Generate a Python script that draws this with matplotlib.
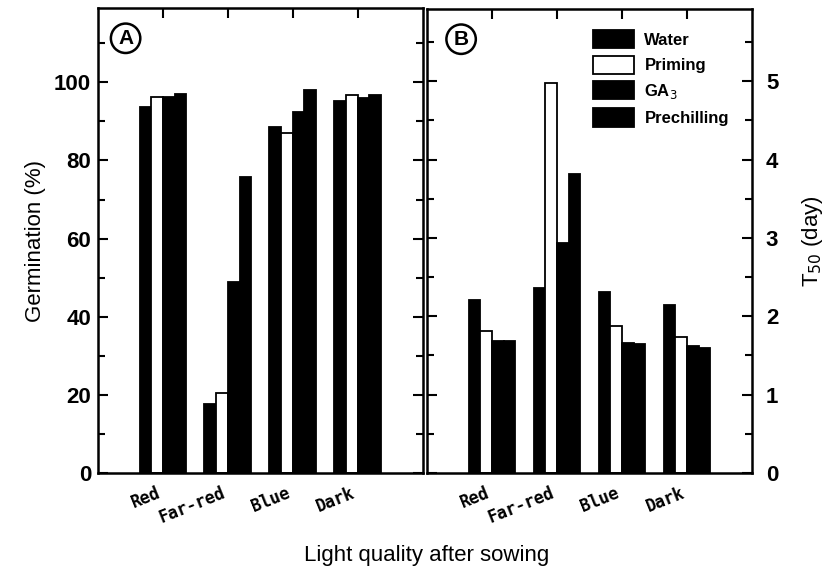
import matplotlib
matplotlib.use("Agg")
import matplotlib.pyplot as plt
import numpy as np
from matplotlib.ticker import MultipleLocator
from matplotlib.patches import Patch

plt.rcParams['font.family'] = ['Liberation Sans', 'DejaVu Sans']

categories = ["Red", "Far-red", "Blue", "Dark"]
treatments = ["Water", "Priming", "GA$_3$", "Prechilling"]

germ_water = [93.6, 17.7, 88.6, 95.3]
germ_priming = [96.3, 20.5, 86.9, 96.8]
germ_ga3 = [96.3, 48.8, 92.3, 95.9]
germ_prechill = [97.0, 75.8, 98.1, 96.7]

t50_water = [2.21, 2.36, 2.31, 2.15]
t50_priming = [1.81, 4.98, 1.88, 1.74]
t50_ga3 = [1.68, 2.94, 1.66, 1.62]
t50_prechill = [1.68, 3.81, 1.64, 1.60]

fills = ["black", "white", "black", "black"]

fig = plt.figure(figsize=(8.27, 5.76), dpi=100)
axA = fig.add_axes([0.1185, 0.1788, 0.3925, 0.8072])
axB = fig.add_axes([0.5163, 0.1788, 0.3930, 0.8055])

x = np.arange(len(categories))
w = 0.18
offs = (np.arange(4) - 1.5) * w

def draw(ax, series):
    for k, vals in enumerate(series):
        ax.bar(x + offs[k], vals, width=w, color=fills[k], edgecolor="black",
               linewidth=1.3, zorder=2)
    ax.set_xlim(-1, 4)
    ax.set_xticks(x)
    ax.set_xticklabels(categories, rotation=22, ha="right",
                       family="DejaVu Sans Mono", fontsize=12, fontweight="bold")
    ax.tick_params(axis="x", which="both", direction="in", top=True, bottom=True,
                   length=7, width=1.5, pad=8)
    for s in ax.spines.values():
        s.set_linewidth(1.8)

draw(axA, [germ_water, germ_priming, germ_ga3, germ_prechill])
draw(axB, [t50_water, t50_priming, t50_ga3, t50_prechill])

axA.set_ylim(0, 119)
axA.yaxis.set_major_locator(MultipleLocator(20))
axA.yaxis.set_minor_locator(MultipleLocator(10))
axA.tick_params(axis="y", which="both", direction="in", left=True, right=True,
                labelleft=True, labelright=False, width=1.5)
axA.tick_params(axis="y", which="major", length=7, pad=5)
axA.tick_params(axis="y", which="minor", length=5)
for t in axA.get_yticklabels():
    t.set_fontsize(16)
    t.set_fontweight("bold")
axA.set_ylabel("Germination (%)", fontsize=16, labelpad=6)

axB.set_ylim(0, 5.92)
axB.yaxis.set_major_locator(MultipleLocator(1))
axB.yaxis.set_minor_locator(MultipleLocator(0.5))
axB.tick_params(axis="y", which="both", direction="in", left=True, right=True,
                labelleft=False, labelright=True, width=1.5)
axB.tick_params(axis="y", which="major", length=7, pad=10)
axB.tick_params(axis="y", which="minor", length=5)
for t in axB.get_yticklabels():
    t.set_fontsize(16)
    t.set_fontweight("bold")
axB.yaxis.set_label_position("right")
axB.set_ylabel("T$_{50}$ (day)", fontsize=16, labelpad=16)

for ax, lab, xp in [(axA, "A", 0.085), (axB, "B", 0.105)]:
    ax.text(xp, 0.935, lab, transform=ax.transAxes, fontsize=15, fontweight="bold",
            ha="center", va="center",
            bbox=dict(boxstyle="circle,pad=0.25", fc="white", ec="black", lw=1.8))

handles = [Patch(facecolor=fills[k], edgecolor="black", linewidth=1.3) for k in range(4)]
axB.legend(handles, treatments, loc="upper left", bbox_to_anchor=(0.51, 0.955),
           frameon=False, prop={"size": 12, "weight": "bold"},
           handlelength=2.5, handleheight=1.3,
           labelspacing=0.45, handletextpad=0.6, borderpad=0, borderaxespad=0)

fig.text(0.516, 0.036, "Light quality after sowing", fontsize=16, ha="center", va="center")

fig.savefig("out.png", dpi=100)
